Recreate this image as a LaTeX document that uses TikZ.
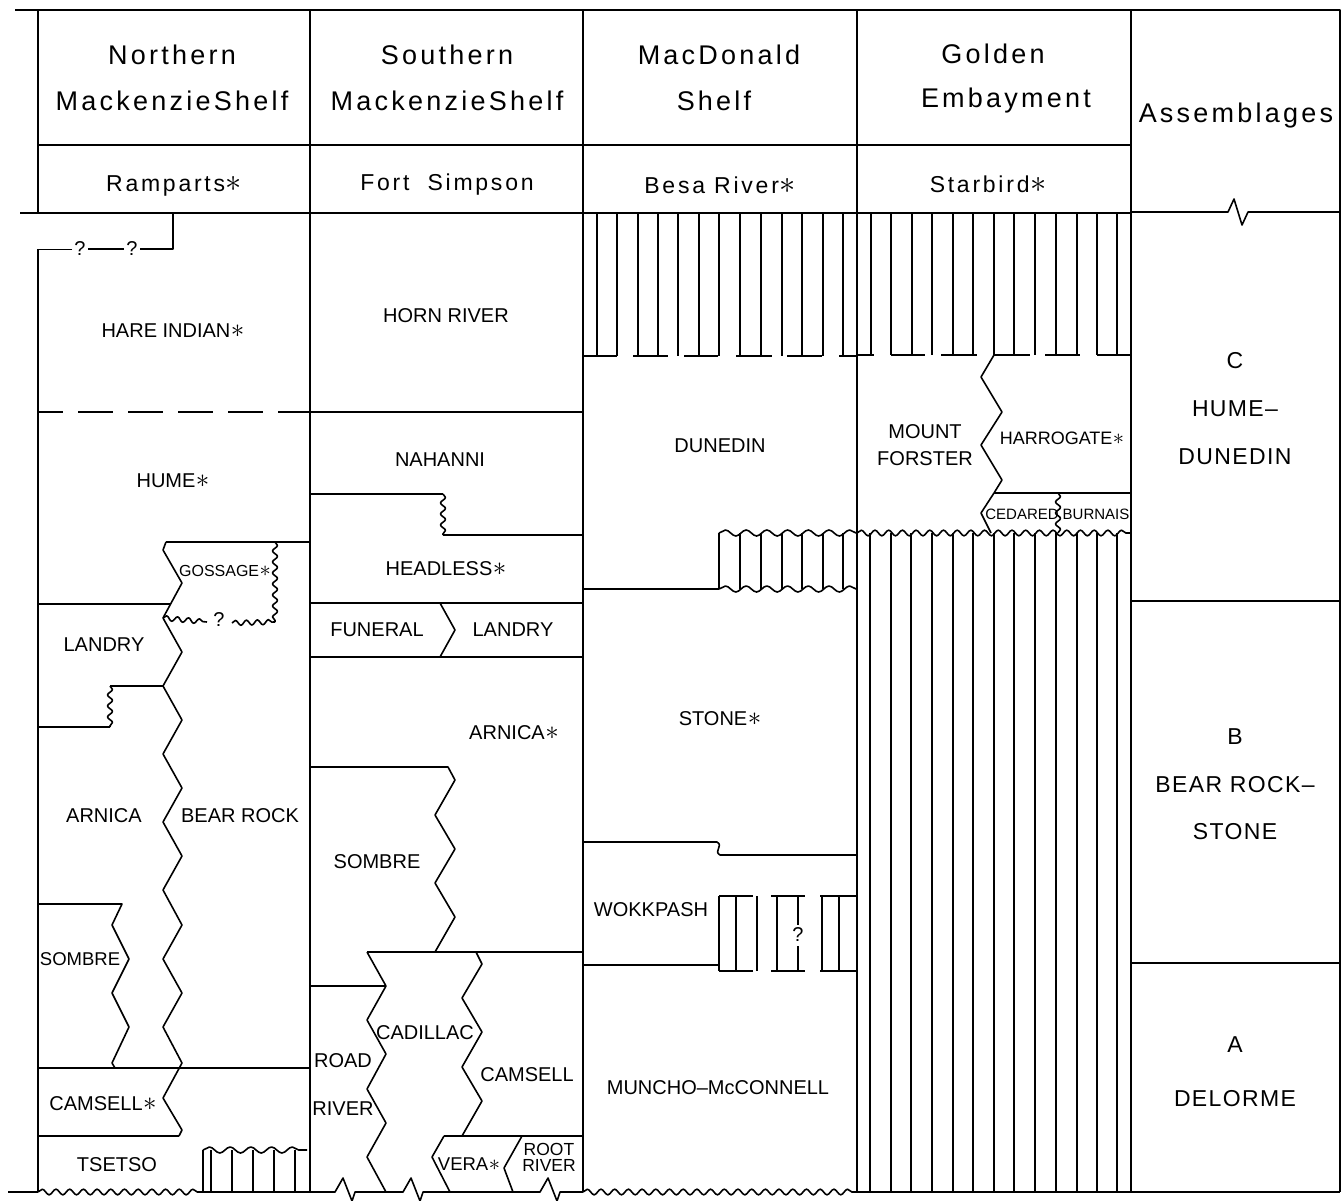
\documentclass[tikz,border=0pt]{standalone}
\usepackage{fontspec}
\setmainfont{Liberation Sans}
\newfontfamily\headfont[LetterSpace=12]{Liberation Sans}
\newfontfamily\asmfont[LetterSpace=6]{Liberation Sans}
\usetikzlibrary{decorations.pathmorphing}
\newcommand{\stx}{\kern0.5pt\scalebox{1.3}{$\ast$}}

\tikzset{
  wavy/.style={decorate, decoration={snake, segment length=13.7pt, amplitude=2.8pt}},
  widewavy/.style={decorate, decoration={snake, segment length=20.7pt, amplitude=3pt}},
  ripple/.style={decorate, decoration={snake, segment length=11pt, amplitude=2.5pt}},
  hatch/.style={line width=1.3pt},
  unitname/.style={font=\fontsize{20}{23}\selectfont, inner sep=0pt},
  smallname/.style={font=\fontsize{15}{17}\selectfont, inner sep=0pt},
  headname/.style={font=\headfont\fontsize{27}{32}\selectfont, inner sep=0pt},
  rowname/.style={font=\headfont\fontsize{23}{27}\selectfont, inner sep=0pt},
  asmname/.style={font=\asmfont\fontsize{23}{27}\selectfont, inner sep=0pt},
}

\begin{document}
\begin{tikzpicture}[x=1pt,y=-1pt,line width=1.6pt,line join=round]
  \useasboundingbox (0,0) rectangle (1343,1201);
  % Frame and columns
  \draw (15,10) -- (1340,10) -- (1340,1192);
  \draw (38,10) -- (38,213);
  \draw (38,249) -- (38,1192);
  \draw (310,10) -- (310,1192);
  \draw (583,10) -- (583,1192);
  \draw (857,10) -- (857,1192);
  \draw (1131,10) -- (1131,1192);
  \draw (38,145) -- (1131,145);
  \draw (20,213) -- (1131,213);
  % Bottom
  \draw (8,1192) -- (38,1192);
  \draw[wavy] (38,1192) -- (203,1192);
  \draw (203,1192) -- (335,1192) -- (343,1178) -- (352,1201) -- (355,1192)
    -- (403,1192) -- (411,1178) -- (420,1201) -- (423,1192)
    -- (540,1192) -- (548,1178) -- (557,1201) -- (560,1192) -- (583,1192);
  \draw[wavy] (583,1192) -- (857,1192);
  \draw (857,1192) -- (1340,1192);
  % Headers
  \node[headname] (hnorth1) at (172,55) {Northern};
  \node[headname] (hnorth2) at (172,101) {MackenzieShelf};
  \node[headname] (hsouth1) at (447,55) {Southern};
  \node[headname] (hsouth2) at (447,101) {MackenzieShelf};
  \node[headname] (hmacd1) at (719,55) {MacDonald};
  \node[headname] (hmacd2) at (714,101) {Shelf};
  \node[headname] (hgold1) at (993,54) {Golden};
  \node[headname] (hgold2) at (1006,101) {Embayment};
  \node[headname] (hasm) at (1236,116) {Assemblages};
  \node[rowname] (ramparts) at (174,186) {Ramparts\stx};
  \node[rowname] (fortsimpson) at (447,185) {Fort\hspace{18pt}Simpson};
  \node[rowname] (besariver) at (720,185) {Besa River\stx};
  \node[rowname] (starbird) at (988,184) {Starbird\stx};

  % Northern Mackenzie Shelf
  \draw (173,213) -- (173,249) -- (140,249);
  \draw (124,249) -- (88,249);
  \draw[line width=1pt] (72,249) -- (38,249);
  \node[unitname] (q1) at (80,249) {?};
  \node[unitname] (q2) at (132,249) {?};
  \draw[dash pattern=on 35pt off 15pt, dash phase=10pt] (38,412) -- (310,412);
  \draw (310,542) -- (166,542);
  \draw (166,542) -- (163,550) -- (182,583) -- (163,618) -- (182,652) -- (163,686)
    -- (182,720) -- (163,754) -- (182,788) -- (163,822) -- (182,856) -- (163,890)
    -- (182,925) -- (163,959) -- (182,993) -- (163,1027) -- (182,1063) -- (163,1098)
    -- (182,1130) -- (179,1136);
  \draw[ripple] (275,542) -- (275,622);
  \draw[ripple] (163,618) -- (207,622);
  \draw[ripple] (232,623) -- (275,622);
  \node[unitname] (q3) at (219,620) {?};
  \draw (38,604) -- (170,604);
  \draw (163,686) -- (110,686);
  \draw[ripple] (110,686) -- (110,727);
  \draw (110,727) -- (38,727);
  \draw (38,904) -- (122,904) -- (112,925) -- (129,959) -- (112,993) -- (129,1027)
    -- (112,1063) -- (115,1068);
  \draw (38,1068) -- (310,1068);
  \draw (38,1136) -- (179,1136);
  \draw[widewavy] (203,1150) -- (307,1150);
  \foreach \x in {203,211,232,253,274,295}
    \draw[hatch] (\x,1150) -- (\x,1192);
  \node[unitname] (hareindian) at (173,331) {HARE INDIAN\stx};
  \node[unitname] (hume) at (173,481) {HUME\stx};
  \node[smallname, font=\fontsize{16}{18}\selectfont] (gossage) at (225,571) {GOSSAGE\stx};
  \node[unitname] (landry1) at (104,645) {LANDRY};
  \node[unitname] (arnica1) at (104,816) {ARNICA};
  \node[unitname] (bearrock) at (240,816) {BEAR ROCK};
  \node[unitname, font=\fontsize{18.5}{21}\selectfont] (sombre1) at (80,959) {SOMBRE};
  \node[unitname] (camsell1) at (103,1104) {CAMSELL\stx};
  \node[unitname] (tsetso) at (117,1165) {TSETSO};

  % Southern Mackenzie Shelf
  \draw (310,412) -- (583,412);
  \draw (310,494) -- (443,494);
  \draw[ripple] (443,494) -- (443,535);
  \draw (443,535) -- (583,535);
  \draw (310,603) -- (583,603);
  \draw (440,603) -- (455,630) -- (440,657);
  \draw (310,657) -- (583,657);
  \draw (310,767) -- (448,767) -- (455,780) -- (435,815) -- (455,849) -- (435,883)
    -- (455,917) -- (435,952);
  \draw (310,986) -- (386,986);
  \draw (367,952) -- (583,952);
  \draw (367,952) -- (386,986) -- (367,1020) -- (386,1054) -- (367,1089) -- (386,1123)
    -- (367,1157) -- (386,1192);
  \draw (476,952) -- (482,964) -- (462,998) -- (482,1032) -- (462,1067) -- (482,1101)
    -- (462,1136);
  \draw (444,1136) -- (583,1136);
  \draw (444,1136) -- (432,1157) -- (450,1192);
  \draw (522,1136) -- (504,1168) -- (513,1192);
  \node[unitname] (hornriver) at (446,316) {HORN RIVER};
  \node[unitname] (nahanni) at (440,460) {NAHANNI};
  \node[unitname] (headless) at (446,569) {HEADLESS\stx};
  \node[unitname] (funeral) at (377,630) {FUNERAL};
  \node[unitname] (landry2) at (513,630) {LANDRY};
  \node[unitname] (arnica2) at (514,733) {ARNICA\stx};
  \node[unitname] (sombre2) at (377,862) {SOMBRE};
  \node[unitname] (road) at (343,1061) {ROAD};
  \node[unitname] (river) at (343,1109) {RIVER};
  \node[unitname] (cadillac) at (425,1033) {CADILLAC};
  \node[unitname] (camsell2) at (527,1075) {CAMSELL};
  \node[unitname, font=\fontsize{18.5}{21}\selectfont] (vera) at (469,1164) {VERA\stx};
  \node[smallname, font=\fontsize{17.5}{19}\selectfont, align=center] (rootriver) at (549,1157) {ROOT\\[-3pt]RIVER};

  % MacDonald Shelf
  \foreach \x in {597,617,638,658,678,699,719,740,761,782,802,823,843}
    \draw[hatch] (\x,213) -- (\x,356);
  \foreach \a/\b in {583/617,633/668,684/718,736/772,787/822,839/857}
    \draw (\a,356) -- (\b,356);
  \draw (583,589) -- (719,589);
  \draw[widewavy] (719,533) -- (857,533);
  \draw[widewavy] (719,589) -- (857,589);
  \foreach \x in {719,740,761,782,802,823,843}
    \draw[hatch] (\x,533) -- (\x,589);
  \draw (583,842) -- (717,842) .. controls (724,846) and (713,851) .. (720,855) -- (857,855);
  \draw (583,965) -- (719,965);
  \foreach \x in {719,736,757,777,822,839}
    \draw[hatch] (\x,896) -- (\x,971);
  \draw[hatch] (798,896) -- (798,925);
  \draw[hatch] (798,946) -- (798,971);
  \foreach \a/\b in {719/753,771/805,820/857} {
    \draw[hatch] (\a,896) -- (\b,896);
    \draw[hatch] (\a,971) -- (\b,971);
  }
  \node[unitname] (q4) at (798,935) {?};
  \node[unitname] (dunedin) at (720,446) {DUNEDIN};
  \node[unitname] (stone) at (720,719) {STONE\stx};
  \node[unitname] (wokkpash) at (651,910) {WOKKPASH};
  \node[unitname] (muncho) at (718,1088) {MUNCHO–McCONNELL};

  % Golden Embayment
  \foreach \x in {871,891,912,932,953,973,994,1014,1035,1056,1077,1097,1117}
    \draw[hatch] (\x,213) -- (\x,355);
  \foreach \a/\b in {857/874,891/925,941/977,994/1030,1045/1080,1097/1131}
    \draw (\a,355) -- (\b,355);
  \draw (994,355) -- (981,377) -- (1002,412) -- (981,445) -- (1002,480) -- (994,493);
  \draw (994,493) -- (1131,493);
  \draw (994,493) -- (981,513) -- (991,533);
  \draw[ripple] (1058,493) -- (1058,533);
  \draw[wavy] (857,533) -- (1131,533);
  \foreach \x in {870,891,911,932,953,973,994,1014,1035,1056,1077,1097,1117}
    \draw[hatch] (\x,533) -- (\x,1192);
  \node[unitname] (mount) at (925,432) {MOUNT};
  \node[unitname] (forster) at (925,459) {FORSTER};
  \node[unitname, font=\fontsize{18}{20}\selectfont] (harrogate) at (1062,438) {HARROGATE\stx};
  \node[smallname] (cedared) at (1022,514) {CEDARED};
  \node[smallname] (burnais) at (1096,514) {BURNAIS};

  % Assemblages
  \draw (1131,212) -- (1228,212) -- (1234,199) -- (1242,225) -- (1248,212) -- (1340,212);
  \draw (1131,601) -- (1340,601);
  \draw (1131,963) -- (1340,963);
  \node[asmname] (asmc) at (1235,361) {C};
  \node[asmname] (asmc1) at (1235,409) {HUME–};
  \node[asmname] (asmc2) at (1235,457) {DUNEDIN};
  \node[asmname] (asmb) at (1235,737) {B};
  \node[asmname] (asmb1) at (1235,785) {BEAR ROCK–};
  \node[asmname] (asmb2) at (1235,832) {STONE};
  \node[asmname] (asma) at (1235,1045) {A};
  \node[asmname] (asma1) at (1235,1099) {DELORME};
\end{tikzpicture}
\end{document}
